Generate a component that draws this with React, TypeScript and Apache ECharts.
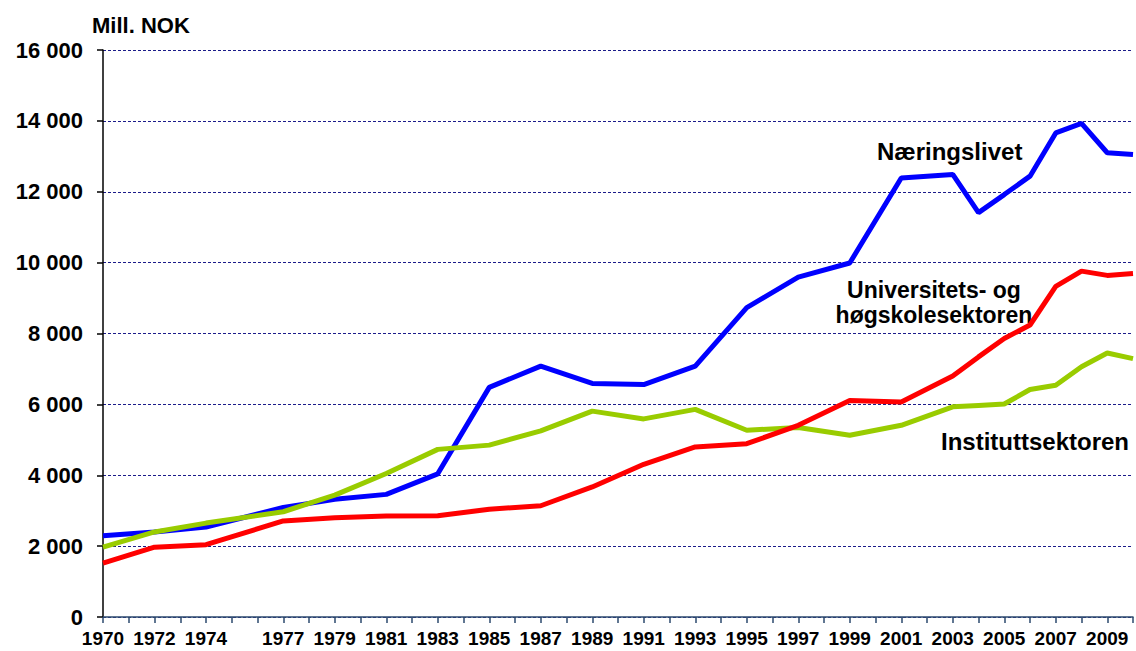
import React, { useEffect, useRef } from "react";
import * as echarts from "echarts";

const years = [1970, 1972, 1974, 1977, 1979, 1981, 1983, 1985, 1987, 1989, 1991, 1993, 1995, 1997, 1999, 2001, 2003, 2004, 2005, 2006, 2007, 2008, 2009, 2010];
const naeringslivet = [2290, 2400, 2540, 3090, 3320, 3460, 4040, 6480, 7080, 6590, 6560, 7080, 8730, 9590, 9990, 12390, 12490, 11410, 11920, 12440, 13660, 13930, 13100, 13050];
const universitet = [1520, 1970, 2040, 2710, 2800, 2850, 2860, 3040, 3140, 3670, 4310, 4800, 4890, 5410, 6110, 6070, 6800, 7340, 7860, 8240, 9330, 9760, 9640, 9690];
const institutt = [1970, 2400, 2650, 2970, 3440, 4050, 4730, 4850, 5250, 5810, 5590, 5860, 5270, 5350, 5130, 5410, 5930, 5970, 6010, 6420, 6540, 7060, 7450, 7290];
const labelYears = [1970, 1972, 1974, 1977, 1979, 1981, 1983, 1985, 1987, 1989, 1991, 1993, 1995, 1997, 1999, 2001, 2003, 2005, 2007, 2009];

const FONT = "'Liberation Sans', Arial, sans-serif";

function pairs(vals: number[]) {
  return years.map((y, i) => [y, vals[i]]);
}

export default function App() {
  const ref = useRef<HTMLDivElement>(null);
  useEffect(() => {
    if (!ref.current) return;
    const chart = echarts.init(ref.current, undefined, { renderer: "svg" });
    chart.setOption({
      animation: false,
      backgroundColor: "#ffffff",
      textStyle: { fontFamily: FONT },
      grid: { left: 103, right: -3, top: 50, bottom: 34 },
      xAxis: {
        type: "value",
        min: 1970,
        max: 2010,
        interval: 1,
        axisLine: { show: true, lineStyle: { color: "#2c4a6e", width: 1.5 } },
        axisTick: { show: true, length: 6, lineStyle: { color: "#2c4a6e", width: 1.5 } },
        splitLine: { show: false },
        axisLabel: {
          margin: 12,
          color: "#000",
          fontWeight: "bold",
          fontSize: 19,
          fontFamily: FONT,
          showMinLabel: true,
          showMaxLabel: true,
          formatter: (v: number) => (labelYears.indexOf(Math.round(v)) >= 0 ? String(Math.round(v)) : ""),
        },
      },
      yAxis: {
        type: "value",
        min: 0,
        max: 16000,
        interval: 2000,
        axisLine: { show: true, lineStyle: { color: "#000", width: 1.5 } },
        axisTick: { show: true, length: 6, lineStyle: { color: "#000", width: 1.5 } },
        splitLine: { show: true, lineStyle: { color: "#1c1c8a", width: 1, type: [3, 2] } },
        axisLabel: {
          margin: 20,
          color: "#000",
          fontWeight: "bold",
          fontSize: 22,
          fontFamily: FONT,
          formatter: (v: number) => {
            const s = String(v);
            return s.length > 3 ? s.slice(0, s.length - 3) + " " + s.slice(s.length - 3) : s;
          },
        },
      },
      series: [
        {
          name: "Næringslivet",
          type: "line",
          data: pairs(naeringslivet),
          symbol: "none",
          lineStyle: { color: "#0000ff", width: 5 },
          itemStyle: { color: "#0000ff" },
        },
        {
          name: "Instituttsektoren",
          type: "line",
          data: pairs(institutt),
          symbol: "none",
          lineStyle: { color: "#99cc00", width: 5 },
          itemStyle: { color: "#99cc00" },
        },
        {
          name: "Universitets- og høgskolesektoren",
          type: "line",
          data: pairs(universitet),
          symbol: "none",
          lineStyle: { color: "#ff0000", width: 5 },
          itemStyle: { color: "#ff0000" },
        },
      ],
      graphic: [
        {
          type: "text",
          left: 92,
          top: 14,
          style: { text: "Mill. NOK", fontSize: 22, fontWeight: "bold", fontFamily: FONT, fill: "#000" },
        },
        {
          type: "text",
          x: 877,
          y: 151,
          style: { text: "Næringslivet", fontSize: 24, fontWeight: "bold", fontFamily: FONT, fill: "#000", align: "left", verticalAlign: "middle" },
        },
        {
          type: "text",
          x: 934,
          y: 290,
          style: { text: "Universitets- og", fontSize: 23, fontWeight: "bold", fontFamily: FONT, fill: "#000", align: "center", verticalAlign: "middle" },
        },
        {
          type: "text",
          x: 934,
          y: 315,
          style: { text: "høgskolesektoren", fontSize: 23, fontWeight: "bold", fontFamily: FONT, fill: "#000", align: "center", verticalAlign: "middle" },
        },
        {
          type: "text",
          x: 941,
          y: 441,
          style: { text: "Instituttsektoren", fontSize: 24, fontWeight: "bold", fontFamily: FONT, fill: "#000", align: "left", verticalAlign: "middle" },
        },
      ],
    });
    return () => chart.dispose();
  }, []);
  return (
    <div
      ref={ref}
      style={{ position: "absolute", left: 0, top: 0, width: 1136, height: 651, overflow: "hidden" }}
    />
  );
}
